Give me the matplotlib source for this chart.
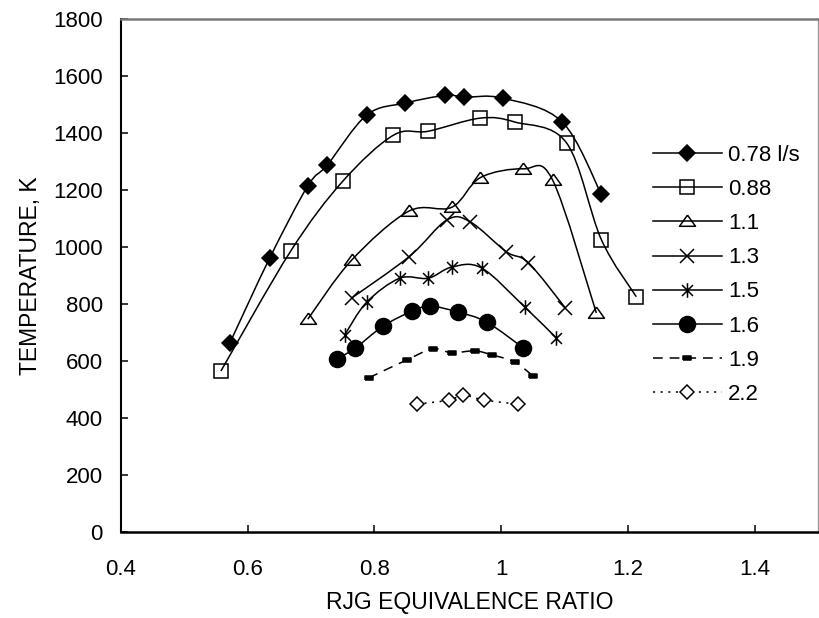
import matplotlib
matplotlib.use("Agg")
import matplotlib.pyplot as plt
from matplotlib.path import Path
from matplotlib.patches import PathPatch
from matplotlib.lines import Line2D
import numpy as np

plt.rcParams['font.family'] = ['Liberation Sans', 'DejaVu Sans']
plt.rcParams['lines.scale_dashes'] = False

# RJG flow rate series: equivalence ratio vs temperature (K)
labels = ['0.78 l/s', '0.88', '1.1', '1.3', '1.5', '1.6', '1.9', '2.2']

phi_078 = [0.572, 0.635, 0.695, 0.726, 0.788, 0.849, 0.912, 0.942, 1.003, 1.096, 1.158]
t_078 = [662, 961, 1214, 1288, 1463, 1505, 1532, 1526, 1522, 1439, 1184]

phi_088 = [0.558, 0.668, 0.750, 0.830, 0.885, 0.967, 1.022, 1.103, 1.158, 1.213]
t_088 = [564, 985, 1230, 1392, 1406, 1452, 1438, 1365, 1025, 825]

phi_11 = [0.695, 0.764, 0.854, 0.922, 0.967, 1.035, 1.081, 1.150]
t_11 = [746, 953, 1125, 1139, 1243, 1274, 1235, 768]

phi_13 = [0.764, 0.855, 0.914, 0.951, 1.008, 1.043, 1.101]
t_13 = [820, 966, 1094, 1088, 983, 944, 786]

phi_15 = [0.753, 0.788, 0.840, 0.885, 0.922, 0.969, 1.037, 1.087]
t_15 = [690, 806, 890, 890, 929, 926, 789, 680]

phi_16 = [0.741, 0.770, 0.814, 0.860, 0.888, 0.932, 0.977, 1.035]
t_16 = [606, 645, 722, 775, 792, 771, 736, 645]

phi_19 = [0.791, 0.851, 0.892, 0.922, 0.958, 0.985, 1.021, 1.050]
t_19 = [540, 603, 642, 628, 635, 621, 596, 547]

phi_22 = [0.867, 0.918, 0.940, 0.973, 1.027]
t_22 = [448, 462, 480, 462, 448]

phis = [phi_078, phi_088, phi_11, phi_13, phi_15, phi_16, phi_19, phi_22]
temps = [t_078, t_088, t_11, t_13, t_15, t_16, t_19, t_22]

# custom marker shapes
tri = [(0, 0.8), (-1, -0.6), (1, -0.6), (0, 0.8)]
star = Path([(0, -1), (0, 1), (-0.75, -0.75), (0.75, 0.75), (-0.75, 0.75), (0.75, -0.75)],
            [Path.MOVETO, Path.LINETO, Path.MOVETO, Path.LINETO, Path.MOVETO, Path.LINETO])
dash = [(-1, -0.5), (1, -0.5), (1, 0.5), (-1, 0.5), (-1, -0.5)]

solid = '-'
styles = [
    dict(marker='D', ms=7.8, mfc='black', ls=solid),
    dict(marker='s', ms=10.5, mfc='none', ls=solid),
    dict(marker=tri, ms=11.5, mfc='none', ls=solid),
    dict(marker='x', ms=10.5, mfc='none', ls=solid),
    dict(marker=star, ms=10.5, mfc='none', ls=solid),
    dict(marker='o', ms=11.5, mfc='black', ls=solid),
    dict(marker=dash, ms=6.0, mfc='black', ls=(0, (7, 5))),
    dict(marker='D', ms=7.6, mfc='white', ls=(0, (1.5, 4))),
]


def smooth_path(x, y):
    # Catmull-Rom style cubic Bezier through the points
    p = np.column_stack([x, y]).astype(float)
    n = len(p)
    verts = [p[0]]
    codes = [Path.MOVETO]
    for i in range(n - 1):
        p0 = p[i - 1] if i > 0 else p[i]
        p3 = p[i + 2] if i + 2 < n else p[i + 1]
        c1 = p[i] + (p[i + 1] - p0) / 6.0
        c2 = p[i + 1] - (p3 - p[i]) / 6.0
        verts += [c1, c2, p[i + 1]]
        codes += [Path.CURVE4] * 3
    return Path(verts, codes)


fig = plt.figure(figsize=(8.19, 6.18), dpi=100)
ax = fig.add_axes([120.7 / 819, 1 - 531.7 / 618, (818.3 - 120.7) / 819, (531.7 - 19) / 618])

lw = 1.1
handles = []
for x, y, st, lab in zip(phis, temps, styles, labels):
    ax.add_patch(PathPatch(smooth_path(x, y), fill=False, lw=lw, ls=st['ls'],
                           edgecolor='black', zorder=2))
    ax.plot(x, y, ls='none', marker=st['marker'], ms=st['ms'], mfc=st['mfc'],
            mec='black', mew=lw, zorder=3)
    handles.append(Line2D([], [], color='black', lw=lw, ls=st['ls'], marker=st['marker'],
                          ms=st['ms'], mfc=st['mfc'], mec='black', mew=lw, label=lab))

ax.set_xlim(0.4, 1.5)
ax.set_ylim(0, 1800)
ax.set_xticks([0.4, 0.6, 0.8, 1.0, 1.2, 1.4])
ax.set_xticklabels(['0.4', '0.6', '0.8', '1', '1.2', '1.4'])
ax.set_yticks(range(0, 1801, 200))

ax.tick_params(direction='in', length=5, width=1.1, labelsize=16)
ax.tick_params(axis='x', pad=19.5)
ax.tick_params(axis='y', pad=13)

ax.spines['left'].set_linewidth(1.5)
ax.spines['bottom'].set_linewidth(1.8)
ax.spines['top'].set_color('#7a7a7a')
ax.spines['top'].set_linewidth(1.8)
ax.spines['right'].set_color('#9a9a9a')
ax.spines['right'].set_linewidth(1.0)

ax.set_xlabel('RJG EQUIVALENCE RATIO', fontsize=16.5, labelpad=8)
ax.set_ylabel('TEMPERATURE, K', fontsize=16.5, labelpad=8)

ax.legend(handles=handles, loc='upper left', frameon=False, fontsize=16,
          bbox_to_anchor=(653 / 819, 1 - 145 / 618), bbox_transform=fig.transFigure,
          borderpad=0, borderaxespad=0, numpoints=1, handlelength=3.1,
          handletextpad=0.27, labelspacing=0.59)

fig.savefig('out.png', dpi=100)
